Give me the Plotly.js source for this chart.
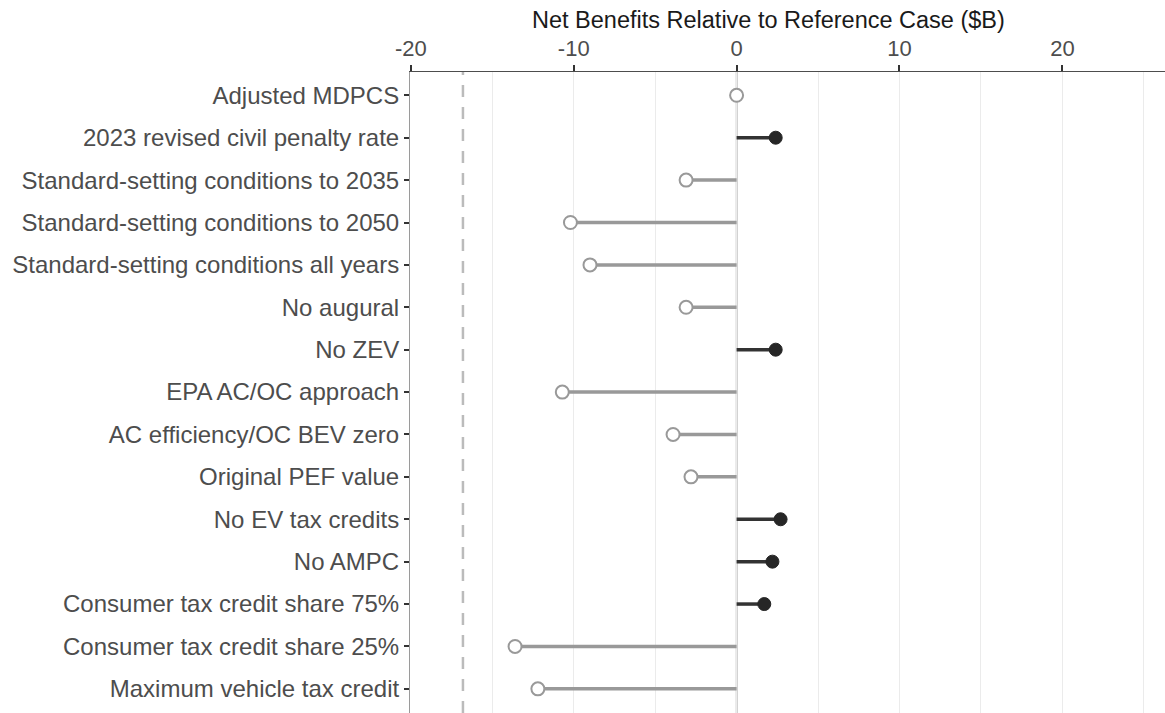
<!DOCTYPE html>
<html>
<head>
<meta charset="utf-8">
<script src="https://cdn.plot.ly/plotly-3.0.1.min.js"></script>
<style>
  html, body { margin: 0; padding: 0; background: #ffffff; }
  #chart { width: 1165px; height: 713px; }
</style>
</head>
<body>
<div id="chart"></div>
<script>
// ---- Data ----
const categories = [
  "Adjusted MDPCS",
  "2023 revised civil penalty rate",
  "Standard-setting conditions to 2035",
  "Standard-setting conditions to 2050",
  "Standard-setting conditions all years",
  "No augural",
  "No ZEV",
  "EPA AC/OC approach",
  "AC efficiency/OC BEV zero",
  "Original PEF value",
  "No EV tax credits",
  "No AMPC",
  "Consumer tax credit share 75%",
  "Consumer tax credit share 25%",
  "Maximum vehicle tax credit"
];
const netBenefits = [0, 2.4, -3.1, -10.2, -9.0, -3.1, 2.4, -10.7, -3.9, -2.8, 2.7, 2.2, 1.7, -13.6, -12.2];
const referenceLine = -16.8;
const xTickVals = [-20, -10, 0, 10, 20];
const xTickText = ["-20", "-10", "0", "10", "20"];
const axisTitle = "Net Benefits Relative to Reference Case ($B)";

// ---- Build traces from data ----
const posCol = "#333333", negCol = "#999999";
function segs(filter) {
  const xs = [], ys = [];
  categories.forEach((c, i) => {
    if (filter(netBenefits[i])) { xs.push(0, netBenefits[i], null); ys.push(c, c, null); }
  });
  return {xs, ys};
}
const negSeg = segs(v => v < 0);
const posSeg = segs(v => v > 0);
const negIdx = categories.map((c, i) => i).filter(i => netBenefits[i] <= 0);
const posIdx = categories.map((c, i) => i).filter(i => netBenefits[i] > 0);

const traces = [
  {type: "scatter", mode: "lines", x: negSeg.xs, y: negSeg.ys, line: {color: negCol, width: 3.5}, hoverinfo: "skip", showlegend: false, connectgaps: false},
  {type: "scatter", mode: "lines", x: posSeg.xs, y: posSeg.ys, line: {color: posCol, width: 3.5}, hoverinfo: "skip", showlegend: false, connectgaps: false},
  {type: "scatter", mode: "markers", x: negIdx.map(i => netBenefits[i]), y: negIdx.map(i => categories[i]),
   marker: {color: "#ffffff", size: 13, line: {color: negCol, width: 2}}, showlegend: false},
  {type: "scatter", mode: "markers", x: posIdx.map(i => netBenefits[i]), y: posIdx.map(i => categories[i]),
   marker: {color: "#262626", size: 13, line: {color: "#262626", width: 1}}, showlegend: false}
];

const layout = {
  width: 1165, height: 713,
  margin: {l: 410, r: 0, t: 72, b: 0, pad: 0},
  paper_bgcolor: "#ffffff", plot_bgcolor: "#ffffff",
  font: {family: "Liberation Sans, Arial, sans-serif", color: "#4d4d4d", size: 23},
  xaxis: {
    side: "top", range: [-20.05, 26.3],
    tickvals: xTickVals, ticktext: xTickText,
    ticks: "outside", ticklen: 6, tickwidth: 2, tickcolor: "#333333",
    tickfont: {size: 22, color: "#4d4d4d"},
    showline: true, linecolor: "#4d4d4d", linewidth: 1.5,
    showgrid: true, gridcolor: "#ebebeb", gridwidth: 1,
    minor: {dtick: 5, tick0: 0, showgrid: true, gridcolor: "#ebebeb", gridwidth: 1, ticks: ""},
    zeroline: false, fixedrange: true
  },
  yaxis: {
    type: "category", categoryarray: categories, categoryorder: "array",
    range: [14.57, -0.55],
    ticks: "outside", ticklen: 5, tickwidth: 2, tickcolor: "#333333",
    tickfont: {size: 24, color: "#4d4d4d"},
    showline: true, linecolor: "#9a9a9a", linewidth: 1,
    showgrid: false, zeroline: false, fixedrange: true
  },
  shapes: [
    {type: "line", xref: "x", yref: "paper", x0: 0, x1: 0, y0: 0, y1: 1, line: {color: "#7f7f7f", width: 1.5}, layer: "between"},
    {type: "line", xref: "x", yref: "paper", x0: referenceLine, x1: referenceLine, y0: 0, y1: 1, line: {color: "#bbbbbb", width: 2.5, dash: "12px,10px"}, layer: "between"}
  ],
  annotations: [
    {text: axisTitle, xref: "paper", yref: "paper", x: 0.4745, y: 1, yshift: 52, xanchor: "center", yanchor: "middle",
     showarrow: false, font: {size: 23.5, color: "#1a1a1a"}}
  ]
};

Plotly.newPlot("chart", traces, layout, {displayModeBar: false, staticPlot: true});
</script>
</body>
</html>
